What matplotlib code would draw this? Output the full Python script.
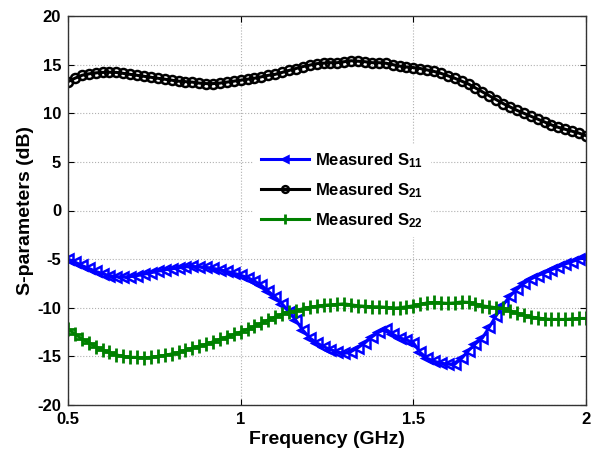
import numpy as np
import matplotlib
matplotlib.use("Agg")
import matplotlib.pyplot as plt

plt.rcParams['font.family'] = ['Liberation Sans', 'DejaVu Sans']
plt.rcParams['font.weight'] = 'bold'
plt.rcParams['mathtext.fontset'] = 'custom'
plt.rcParams['mathtext.rm'] = 'Liberation Sans:bold'
plt.rcParams['mathtext.bf'] = 'Liberation Sans:bold'
plt.rcParams['mathtext.it'] = 'Liberation Sans:bold'
plt.rcParams['axes.unicode_minus'] = False

freq = np.round(np.arange(0.5, 2.0001, 0.02), 2)

s21 = [13.25, 13.6, 13.9, 14.05, 14.15, 14.2, 14.22, 14.2, 14.1, 14.0,
       13.9, 13.8, 13.7, 13.6, 13.5, 13.4, 13.3, 13.25, 13.2, 13.1,
       13.05, 13.05, 13.1, 13.2, 13.3, 13.4, 13.5, 13.6, 13.75, 13.9,
       14.0, 14.2, 14.4, 14.6, 14.8, 14.95, 15.1, 15.15, 15.2, 15.2,
       15.3, 15.4, 15.35, 15.3, 15.2, 15.2, 15.15, 15.0, 14.85, 14.75,
       14.7, 14.6, 14.45, 14.3, 14.1, 13.85, 13.6, 13.3, 13.0, 12.6,
       12.2, 11.8, 11.4, 11.0, 10.65, 10.3, 10.0, 9.7, 9.4, 9.1,
       8.8, 8.55, 8.35, 8.15, 7.95, 7.7]

s11 = [-5.0, -5.3, -5.65, -5.95, -6.25, -6.5, -6.7, -6.8, -6.85, -6.8,
       -6.7, -6.55, -6.4, -6.25, -6.1, -6.0, -5.9, -5.8, -5.75, -5.8,
       -5.85, -5.95, -6.1, -6.25, -6.45, -6.65, -6.9, -7.25, -7.7, -8.3,
       -8.9, -9.6, -10.4, -11.3, -12.3, -13.1, -13.6, -14.0, -14.3, -14.55,
       -14.7, -14.5, -14.1, -13.6, -13.0, -12.5, -12.2, -12.7, -13.1, -13.3,
       -13.6, -14.6, -15.2, -15.5, -15.7, -15.8, -15.8, -15.2, -14.4, -13.7,
       -13.1, -12.0, -10.8, -9.7, -8.8, -8.1, -7.5, -7.05, -6.7, -6.4,
       -6.1, -5.8, -5.5, -5.25, -5.0, -4.75]

s22 = [-12.2, -12.7, -13.2, -13.6, -14.0, -14.35, -14.6, -14.85, -15.0, -15.1,
       -15.1, -15.15, -15.1, -15.0, -14.9, -14.75, -14.6, -14.35, -14.15, -13.95,
       -13.75, -13.5, -13.25, -13.0, -12.75, -12.5, -12.2, -11.9, -11.6, -11.25,
       -10.95, -10.65, -10.45, -10.3, -10.1, -9.95, -9.85, -9.75, -9.7, -9.65,
       -9.6, -9.7, -9.8, -9.85, -9.9, -9.9, -9.95, -10.05, -10.0, -9.9,
       -9.8, -9.65, -9.5, -9.45, -9.5, -9.55, -9.5, -9.4, -9.45, -9.6,
       -9.8, -9.9, -10.0, -10.05, -10.3, -10.55, -10.75, -10.95, -11.05, -11.15,
       -11.2, -11.2, -11.2, -11.15, -11.1, -11.1]

labels = [r'Measured S$_{11}$', r'Measured S$_{21}$', r'Measured S$_{22}$']
xticks = [0.5, 1, 1.5, 2]
xticklabels = ['0.5', '1', '1.5', '2']
yticks = [-20, -15, -10, -5, 0, 5, 10, 15, 20]

fig = plt.figure(figsize=(5.99, 4.5), dpi=100)
ax = fig.add_axes([68/599, 1-405/450, (586-68)/599, (405-16)/450])

ax.plot(freq, s11, color='#0000ff', lw=2.2, marker='<', ms=6.5, mfc='none',
        mew=1.8, label=labels[0])
ax.plot(freq, s21, color='black', lw=2.2, marker='o', ms=6.5, mfc='none',
        mew=1.8, label=labels[1])
ax.plot(freq, s22, color='#008000', lw=2.2, marker='+', ms=10,
        mew=2.0, label=labels[2])

ax.set_xlim(0.5, 2)
ax.set_ylim(-20, 20)
ax.set_xticks(xticks)
ax.set_xticklabels(xticklabels)
ax.set_yticks(yticks)
ax.grid(True, color='#b0b0b0', linestyle=':', linewidth=0.8)
ax.tick_params(direction='in', top=True, right=True, labelsize=12,
               length=4, width=0.8, colors='black', pad=5)
for lab in ax.get_xticklabels() + ax.get_yticklabels():
    lab.set_fontweight('bold')
for sp in ax.spines.values():
    sp.set_color('#333333')
    sp.set_linewidth(1.0)

ax.set_xlabel('Frequency (GHz)', fontsize=14, fontweight='bold', labelpad=3)
ax.set_ylabel('S-parameters (dB)', fontsize=14, fontweight='bold', labelpad=2)

leg = ax.legend(loc='upper left', bbox_to_anchor=((246-68)/518, (405-136)/389),
                numpoints=1, markerscale=0.75, frameon=True, fancybox=False,
                edgecolor='white', facecolor='white', framealpha=1, fontsize=12,
                handlelength=2.9, handletextpad=0.35, labelspacing=0.68,
                borderpad=0.4)
for t in leg.get_texts():
    t.set_fontweight('bold')

fig.savefig('out.png', dpi=100)
